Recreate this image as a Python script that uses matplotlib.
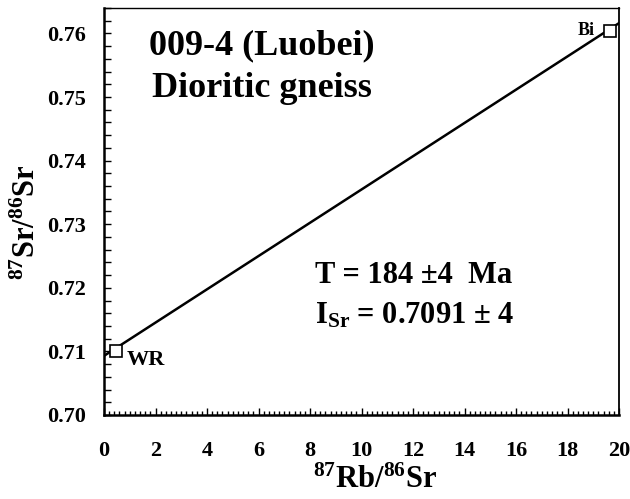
import matplotlib
matplotlib.use("Agg")
import matplotlib.pyplot as plt
from matplotlib.ticker import MultipleLocator
import numpy as np

labels = ["WR", "Bi"]
rb_sr = [0.46, 19.66]
sr_sr = [0.7101, 0.7604]
isr = 0.7093
slope = 0.002616

plt.rcParams['font.family'] = ['Liberation Serif', 'DejaVu Serif']
plt.rcParams['font.weight'] = 'bold'
plt.rcParams['mathtext.fontset'] = 'custom'
plt.rcParams['mathtext.rm'] = 'Liberation Serif:bold'
plt.rcParams['mathtext.bf'] = 'Liberation Serif:bold'
plt.rcParams['mathtext.it'] = 'Liberation Serif:bold'

fig = plt.figure(figsize=(6.3, 4.99), dpi=100)
ax = fig.add_axes([104/630, 1-415/499, 515/630, 407/499])

xl = np.array([0, 20])
ax.plot(xl, isr + slope*xl, color='black', lw=1.8, zorder=2, clip_on=True)
ax.plot(rb_sr, sr_sr, linestyle='none', marker='s', ms=8, mfc='white', mec='black', mew=1.2, zorder=3, clip_on=False)

ax.text(0.89, 0.70868, labels[0], fontsize=16, fontweight='bold', ha='left', va='center')
ax.text(19.07, 0.7605, labels[1], fontsize=13, fontweight='bold', ha='right', va='center')

ax.text(6.14, 0.75669, "009-4 (Luobei)", fontsize=26, fontweight='bold', ha='center', va='baseline')
ax.text(6.14, 0.75006, "Dioritic gneiss", fontsize=26, fontweight='bold', ha='center', va='baseline')
ax.text(8.19, 0.72069, "T = 184 ±4  Ma", fontsize=22, fontweight='bold', ha='left', va='baseline')
ax.text(8.19, 0.71437, r"I$_{\mathrm{Sr}}$ = 0.7091 ± 4", fontsize=22, fontweight='bold', ha='left', va='baseline')

ax.set_xlim(0, 20)
ax.set_ylim(0.70, 0.764)
ax.xaxis.set_major_locator(MultipleLocator(2))
ax.xaxis.set_minor_locator(MultipleLocator(0.2))
ax.yaxis.set_minor_locator(MultipleLocator(0.002))
ax.set_yticks([0.70, 0.71, 0.72, 0.73, 0.74, 0.75, 0.76])
ax.set_yticklabels(["0.70", "0.71", "0.72", "0.73", "0.74", "0.75", "0.76"])
ax.tick_params(axis='both', which='both', direction='in', labelsize=16, width=1)
ax.tick_params(axis='x', which='major', length=5, pad=19)
ax.tick_params(axis='x', which='minor', length=3)
ax.tick_params(axis='y', which='major', length=5, pad=13)
ax.tick_params(axis='y', which='minor', length=5)
for lab in ax.get_xticklabels() + ax.get_yticklabels():
    lab.set_fontweight('bold')

ax.spines['left'].set_linewidth(1.8)
ax.spines['bottom'].set_linewidth(1.8)
ax.spines['top'].set_linewidth(1.0)
ax.spines['right'].set_linewidth(1.3)

fig.text(375/630, 1-480/499, r"$^{87}$Rb/$^{86}$Sr", fontsize=22, fontweight='bold', ha='center', va='center')
fig.text(27/630, 1-222/499, r"$^{87}$Sr/$^{86}$Sr", fontsize=22, fontweight='bold', ha='center', va='center', rotation=90)

fig.savefig("out.png", dpi=100)
